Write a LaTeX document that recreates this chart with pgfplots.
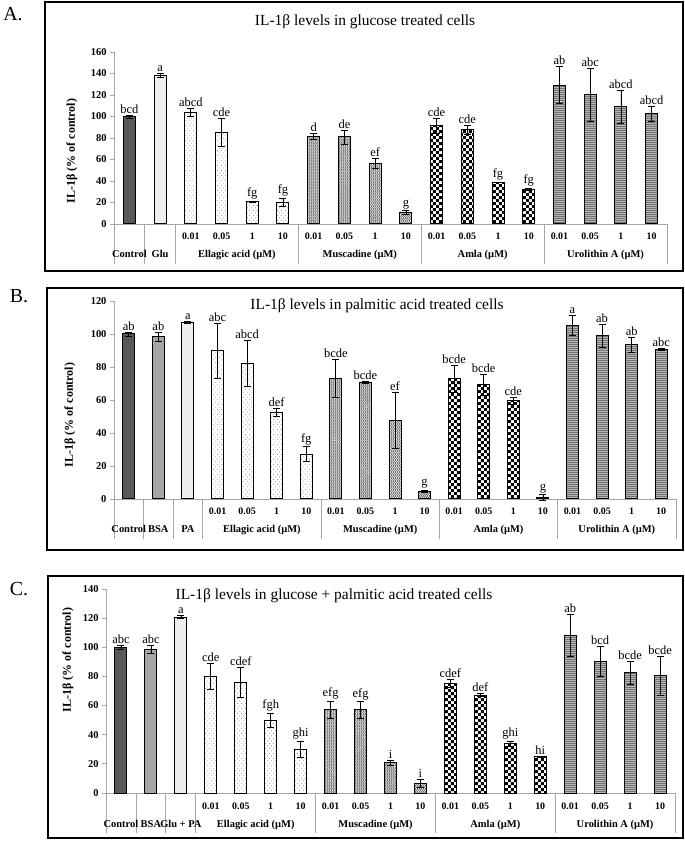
\documentclass[border=0pt]{standalone}
\usepackage{pgfplots}
\pgfplotsset{compat=1.18}
\usepackage{pgfplotstable}
\usepackage{fontspec}
\setmainfont{Liberation Serif}
\usetikzlibrary{patterns}

% bar fill patterns
\pgfdeclarepatternformonly{sdots}{\pgfqpoint{-1pt}{-1pt}}{\pgfqpoint{5pt}{6pt}}{\pgfqpoint{4pt}{5pt}}{%
  \pgfpathcircle{\pgfqpoint{0.5pt}{0.5pt}}{0.45pt}%
  \pgfpathcircle{\pgfqpoint{2.5pt}{3pt}}{0.45pt}\pgfusepath{fill}}
\pgfdeclarepatternformonly{zz}{\pgfqpoint{-0.5pt}{-0.5pt}}{\pgfqpoint{2.5pt}{3.5pt}}{\pgfqpoint{2pt}{3pt}}{%
  \pgfsetlinewidth{0.7pt}\pgfpathmoveto{\pgfqpoint{0pt}{0pt}}%
  \pgfpathlineto{\pgfqpoint{1.5pt}{1.5pt}}\pgfpathlineto{\pgfqpoint{0pt}{3pt}}\pgfusepath{stroke}}
\pgfdeclarepatternformonly{chk}{\pgfqpoint{0pt}{0pt}}{\pgfqpoint{6pt}{6pt}}{\pgfqpoint{6pt}{6pt}}{%
  \pgfpathrectangle{\pgfqpoint{0pt}{0pt}}{\pgfqpoint{3pt}{3pt}}%
  \pgfpathrectangle{\pgfqpoint{3pt}{3pt}}{\pgfqpoint{3pt}{3pt}}\pgfusepath{fill}}
\pgfdeclarepatternformonly{hl}{\pgfqpoint{0pt}{0pt}}{\pgfqpoint{2pt}{2.2pt}}{\pgfqpoint{2pt}{2.2pt}}{%
  \pgfpathrectangle{\pgfqpoint{0pt}{0pt}}{\pgfqpoint{2pt}{1pt}}\pgfusepath{fill}}

\definecolor{ctrl}{HTML}{595959}
\definecolor{bsa}{HTML}{A6A6A6}
\definecolor{lite}{HTML}{EEEEEE}
\definecolor{uro}{HTML}{737373}
\definecolor{axgray}{HTML}{A6A6A6}

% x y err letters
\pgfplotstableread{
x y e lab
0 100 1.5 bcd
1 138.2 1.5 a
2 103.7 3.7 abcd
3 85.4 13 cde
4 20.8 0.5 fg
5 20.2 3.7 fg
6 81.4 2.8 d
7 81 6.5 de
8 56.5 4.5 ef
9 10.9 1.5 g
10 91.3 6.8 cde
11 87.6 4.3 cde
12 38.8 0.3 fg
13 32.3 1 fg
14 129.2 17.4 ab
15 120.2 25 abc
16 109 15.5 abcd
17 102.5 6.7 abcd
}\dataA

\pgfplotstableread{
x y e lab
0 100 1.2 ab
1 98.4 2.8 ab
2 106.9 0.5 a
3 89.8 16.8 abc
4 82.3 14 abcd
5 52.4 2.6 def
6 27.2 4.5 fg
7 73 11.5 bcde
8 70.8 0.5 bcde
9 47.4 17 ef
10 4.8 0.6 g
11 72.8 8 bcde
12 69.4 6.3 bcde
13 59.5 2.4 cde
14 1 1.6 g
15 105.3 6.3 a
16 99 6.8 ab
17 93.4 4.6 ab
18 90.6 0.5 abc
}\dataB

\pgfplotstableread{
x y e lab
0 100 1.5 abc
1 98.6 2.6 abc
2 120.6 1 a
3 79.9 9 cde
4 75.8 10.5 cdef
5 50 4.9 fgh
6 30.1 5.4 ghi
7 57.3 5.8 efg
8 57.1 5.7 efg
9 20.6 1.6 i
10 6.6 2.8 i
11 75.1 2.7 cdef
12 67.1 1 def
13 33.8 1.7 ghi
14 25.1 0.3 hi
15 108 14.5 ab
16 90.2 10.3 bcd
17 82.4 8 bcde
18 80.4 13.6 bcde
}\dataC

\tikzset{
  grp/.style={font=\bfseries\fontsize{10.5}{12}\selectfont, anchor=base, yshift=-34bp},
  sep/.style={axgray, line width=0.8bp},
  tit/.style={font=\fontsize{15.5}{17}\selectfont},
  ylab/.style={rotate=90, font=\bfseries\fontsize{12}{14}\selectfont},
  pl/.style={font=\fontsize{20}{22}\selectfont},
  frame/.style={line width=2.2bp},
}
\pgfplotsset{
  cbar/.style={ybar, bar width=12bp, bar shift=0pt, draw=black, line width=1bp,
    error bars/y dir=both, error bars/y explicit,
    error bars/error bar style={black, line width=0.7bp},
    error bars/error mark options={rotate=90, black, mark size=3.5bp, line width=0.7bp}},
  lett/.style={draw=none, mark=none, nodes near coords, point meta=explicit symbolic,
    nodes near coords style={font=\fontsize{12.5}{13}\selectfont, anchor=south, inner sep=1.5bp, black}},
  panel/.style={scale only axis, anchor=south west, xmin=-0.5, ymin=0, clip=false,
    axis x line*=bottom, axis y line*=left,
    axis line style={axgray, line width=0.8bp, -},
    xtick style={draw=none}, ytick style={axgray, line width=0.8bp},
    tick align=outside, major tick length=4bp,
    /pgf/number format/assume math mode=true,
    yticklabel style={font=\bfseries\fontsize{10.5}{12}\selectfont},
    xticklabel style={font=\bfseries\fontsize{10}{12}\selectfont, anchor=base, yshift=-12bp},
    xticklabels={0.01,0.05,1,10,0.01,0.05,1,10,0.01,0.05,1,10,0.01,0.05,1,10}},
}

\begin{document}
\begin{tikzpicture}
\path[use as bounding box] (0bp,0bp) rectangle (685bp,841bp);

% ---------- A ----------
\draw[frame] (45bp,839bp) rectangle (683bp,570bp);
\node[pl] at (13bp,827bp) {A.};
\node[tit] at (365bp,819bp) {IL-1β levels in glucose treated cells};
\node[ylab] at (72bp,690bp) {IL-1β (\% of control)};
\begin{axis}[panel, at={(114bp,617bp)}, width=553bp, height=172bp,
  xmax=17.5, ymax=160, ytick={0,20,...,160}, xtick={2,...,17}]
\addplot[cbar, fill=ctrl, restrict x to domain=-0.1:0.1] table[x=x, y=y, y error=e] {\dataA};
\addplot[cbar, fill=lite, restrict x to domain=0.9:1.1] table[x=x, y=y, y error=e] {\dataA};
\addplot[cbar, pattern=sdots, pattern color=gray, restrict x to domain=1.9:5.1] table[x=x, y=y, y error=e] {\dataA};
\addplot[cbar, pattern=zz, pattern color=black!60, restrict x to domain=5.9:9.1] table[x=x, y=y, y error=e] {\dataA};
\addplot[cbar, pattern=chk, pattern color=black, restrict x to domain=9.9:13.1] table[x=x, y=y, y error=e] {\dataA};
\addplot[cbar, fill=uro, postaction={pattern=hl, pattern color=gray!30}, restrict x to domain=13.9:17.1] table[x=x, y=y, y error=e] {\dataA};
\addplot[lett] table[x=x, y expr=\thisrow{y}+\thisrow{e}, meta=lab] {\dataA};
\pgfplotsinvokeforeach{-0.5,0.5,1.5,5.5,9.5,13.5,17.5}{\draw[sep] (axis cs:#1,0) -- ++(0pt,-40bp);}
\node[grp] at (axis cs:0,0) {Control};
\node[grp] at (axis cs:1,0) {Glu};
\node[grp] at (axis cs:3.5,0) {Ellagic acid (µM)};
\node[grp] at (axis cs:7.5,0) {Muscadine (µM)};
\node[grp] at (axis cs:11.5,0) {Amla (µM)};
\node[grp] at (axis cs:15.5,0) {Urolithin A (µM)};
\end{axis}

% ---------- B ----------
\draw[frame] (47bp,553bp) rectangle (683bp,291bp);
\node[pl] at (19bp,545bp) {B.};
\node[tit] at (377bp,535bp) {IL-1β levels in palmitic acid treated cells};
\node[ylab] at (70bp,426bp) {IL-1β (\% of control)};
\begin{axis}[panel, at={(114bp,342bp)}, width=562bp, height=198bp,
  xmax=18.5, ymax=120, ytick={0,20,...,120}, xtick={3,...,18}]
\addplot[cbar, fill=ctrl, restrict x to domain=-0.1:0.1] table[x=x, y=y, y error=e] {\dataB};
\addplot[cbar, fill=bsa, restrict x to domain=0.9:1.1] table[x=x, y=y, y error=e] {\dataB};
\addplot[cbar, fill=lite, restrict x to domain=1.9:2.1] table[x=x, y=y, y error=e] {\dataB};
\addplot[cbar, pattern=sdots, pattern color=gray, restrict x to domain=2.9:6.1] table[x=x, y=y, y error=e] {\dataB};
\addplot[cbar, pattern=zz, pattern color=black!60, restrict x to domain=6.9:10.1] table[x=x, y=y, y error=e] {\dataB};
\addplot[cbar, pattern=chk, pattern color=black, restrict x to domain=10.9:14.1] table[x=x, y=y, y error=e] {\dataB};
\addplot[cbar, fill=uro, postaction={pattern=hl, pattern color=gray!30}, restrict x to domain=14.9:18.1] table[x=x, y=y, y error=e] {\dataB};
\addplot[lett] table[x=x, y expr=\thisrow{y}+\thisrow{e}, meta=lab] {\dataB};
\pgfplotsinvokeforeach{-0.5,0.5,1.5,2.5,6.5,10.5,14.5,18.5}{\draw[sep] (axis cs:#1,0) -- ++(0pt,-40bp);}
\node[grp] at (axis cs:0,0) {Control};
\node[grp] at (axis cs:1,0) {BSA};
\node[grp] at (axis cs:2,0) {PA};
\node[grp] at (axis cs:4.5,0) {Ellagic acid (µM)};
\node[grp] at (axis cs:8.5,0) {Muscadine (µM)};
\node[grp] at (axis cs:12.5,0) {Amla (µM)};
\node[grp] at (axis cs:16.5,0) {Urolithin A (µM)};
\end{axis}

% ---------- C ----------
\draw[frame] (48bp,265bp) rectangle (683bp,3bp);
\node[pl] at (19bp,252bp) {C.};
\node[tit] at (334bp,245bp) {IL-1β levels in glucose + palmitic acid treated cells};
\node[ylab] at (68bp,181bp) {IL-1β (\% of control)};
\begin{axis}[panel, at={(106bp,48bp)}, width=569bp, height=204bp,
  xmax=18.5, ymax=140, ytick={0,20,...,140}, xtick={3,...,18}]
\addplot[cbar, fill=ctrl, restrict x to domain=-0.1:0.1] table[x=x, y=y, y error=e] {\dataC};
\addplot[cbar, fill=bsa, restrict x to domain=0.9:1.1] table[x=x, y=y, y error=e] {\dataC};
\addplot[cbar, fill=lite, restrict x to domain=1.9:2.1] table[x=x, y=y, y error=e] {\dataC};
\addplot[cbar, pattern=sdots, pattern color=gray, restrict x to domain=2.9:6.1] table[x=x, y=y, y error=e] {\dataC};
\addplot[cbar, pattern=zz, pattern color=black!60, restrict x to domain=6.9:10.1] table[x=x, y=y, y error=e] {\dataC};
\addplot[cbar, pattern=chk, pattern color=black, restrict x to domain=10.9:14.1] table[x=x, y=y, y error=e] {\dataC};
\addplot[cbar, fill=uro, postaction={pattern=hl, pattern color=gray!30}, restrict x to domain=14.9:18.1] table[x=x, y=y, y error=e] {\dataC};
\addplot[lett] table[x=x, y expr=\thisrow{y}+\thisrow{e}, meta=lab] {\dataC};
\pgfplotsinvokeforeach{-0.5,0.5,1.5,2.5,6.5,10.5,14.5,18.5}{\draw[sep] (axis cs:#1,0) -- ++(0pt,-40bp);}
\node[grp] at (axis cs:0,0) {Control};
\node[grp] at (axis cs:1,0) {BSA};
\node[grp] at (axis cs:2,0) {Glu + PA};
\node[grp] at (axis cs:4.5,0) {Ellagic acid (µM)};
\node[grp] at (axis cs:8.5,0) {Muscadine (µM)};
\node[grp] at (axis cs:12.5,0) {Amla (µM)};
\node[grp] at (axis cs:16.5,0) {Urolithin A (µM)};
\end{axis}
\end{tikzpicture}
\end{document}
